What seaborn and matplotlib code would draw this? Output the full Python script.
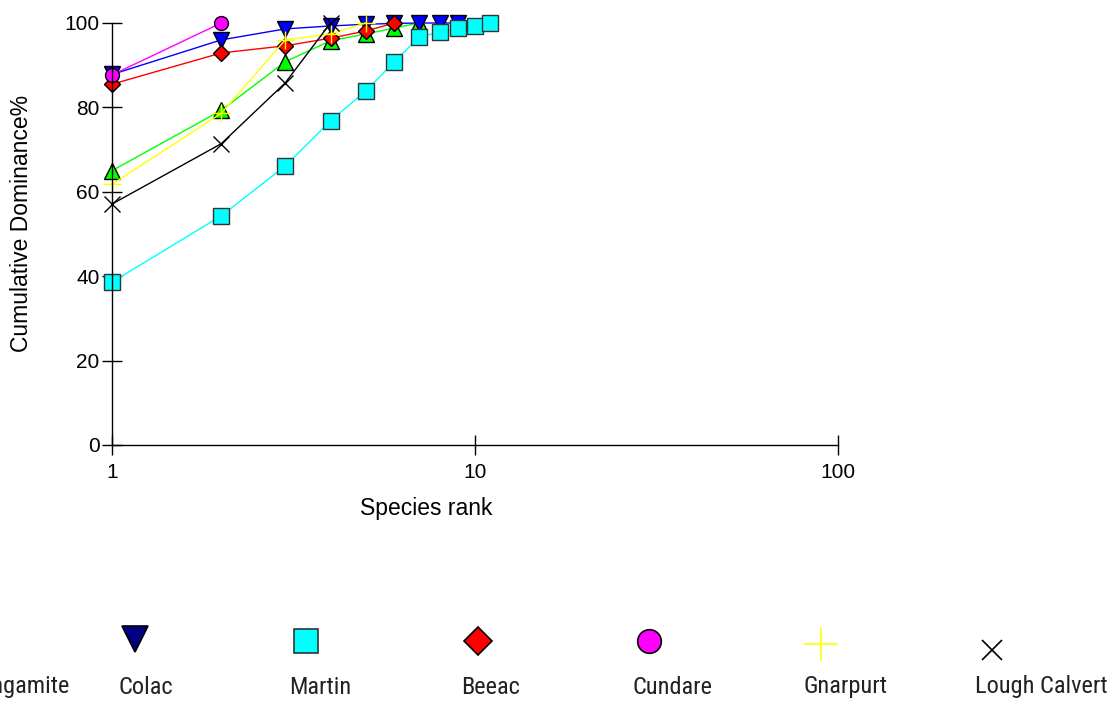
import matplotlib
matplotlib.use("Agg")
import matplotlib.pyplot as plt
from matplotlib import font_manager
import seaborn as sns
import pandas as pd
from matplotlib.ticker import FixedLocator, NullLocator, FixedFormatter

# ---- data ----
sites = ["Corangamite", "Colac", "Martin", "Beeac", "Cundare", "Gnarpurt", "Lough Calvert"]
corangamite = [65.0, 79.3, 90.8, 95.8, 97.4, 98.8, 100.0]
colac = [87.8, 96.0, 98.6, 99.3, 99.7, 99.9, 100.0, 100.0, 100.0]
martin = [38.6, 54.3, 66.1, 76.8, 83.9, 90.8, 96.6, 97.9, 98.7, 99.4, 100.0]
beeac = [85.5, 92.9, 94.6, 96.4, 98.1, 100.0]
cundare = [87.7, 100.0]
gnarpurt = [61.8, 78.6, 96.0, 97.4, 100.0]
lough_calvert = [57.1, 71.4, 85.8, 100.0]
series_values = [corangamite, colac, martin, beeac, cundare, gnarpurt, lough_calvert]

rows = []
for s, vals in zip(sites, series_values):
    for i, v in enumerate(vals):
        rows.append({"site": s, "rank": i + 1, "dominance": v})
df = pd.DataFrame(rows)

# ---- styles ----
styles = {
    "Corangamite":   dict(color="#00ff00", marker="^", mfc="#00ff00", mec="black", ms=11, lg_mfc="#00ff00"),
    "Colac":         dict(color="#0000ff", marker="v", mfc="#0000ff", mec="black", ms=11, lg_mfc="#000080"),
    "Martin":        dict(color="#00ffff", marker="s", mfc="#00ffff", mec="#333333", ms=11, lg_mfc="#00ffff"),
    "Beeac":         dict(color="#ff0000", marker="D", mfc="#ff0000", mec="black", ms=8.5, lg_mfc="#ff0000"),
    "Cundare":       dict(color="#ff00ff", marker="o", mfc="#ff00ff", mec="black", ms=10, lg_mfc="#ff00ff"),
    "Gnarpurt":      dict(color="#ffff00", marker="+", mfc="#ffff00", mec="#ffff00", ms=13, lg_mfc="#ffff00"),
    "Lough Calvert": dict(color="#000000", marker="x", mfc="#000000", mec="#000000", ms=11, lg_mfc="#000000"),
}

sns.set_theme(style="white")
plt.rcParams["font.family"] = ["Liberation Sans", "DejaVu Sans"]

available = {f.name for f in font_manager.fontManager.ttflist}
if "Roboto Condensed" in available:
    leg_family, leg_size = ["Roboto Condensed", "DejaVu Sans"], 17.6
elif "Liberation Sans Narrow" in available:
    leg_family, leg_size = ["Liberation Sans Narrow", "DejaVu Sans"], 17.6
else:
    leg_family, leg_size = ["Roboto", "DejaVu Sans"], 14.5

W, H = 1112, 702
fig = plt.figure(figsize=(W / 100, H / 100), dpi=100)
ax = fig.add_axes([112 / W, 1 - 445 / H, 726 / W, 422 / H])

for s in sites:
    st = styles[s]
    sub = df[df["site"] == s]
    sns.lineplot(data=sub, x="rank", y="dominance", ax=ax, color=st["color"],
                 marker=st["marker"], markersize=st["ms"], markerfacecolor=st["mfc"],
                 markeredgecolor=st["mec"], markeredgewidth=1.0, linewidth=1.0,
                 estimator=None, sort=False, legend=False, clip_on=False)

ax.set_xscale("log")
ax.set_xlim(1, 100)
ax.set_ylim(0, 100)
ax.xaxis.set_major_locator(FixedLocator([1, 10, 100]))
ax.xaxis.set_major_formatter(FixedFormatter(["1", "10", "100"]))
ax.xaxis.set_minor_locator(NullLocator())
ax.yaxis.set_major_locator(FixedLocator([0, 20, 40, 60, 80, 100]))
ax.yaxis.set_major_formatter(FixedFormatter(["0", "20", "40", "60", "80", "100"]))

for side in ["top", "right"]:
    ax.spines[side].set_visible(False)
for side in ["left", "bottom"]:
    ax.spines[side].set_color("black")
    ax.spines[side].set_linewidth(1.0)

ax.tick_params(axis="both", which="major", direction="inout", length=14, width=1.0,
               color="black", labelsize=15, labelcolor="black", left=True, bottom=True)
ax.tick_params(axis="y", pad=2)
ax.tick_params(axis="x", pad=6)

ax.set_xlabel("Species rank", fontsize=16.5, color="black")
ax.set_ylabel("Cumulative Dominance%", fontsize=16.5, color="black")
ax.xaxis.set_label_coords((426 - 112) / 726, (445 - 497) / 422)
ax.yaxis.set_label_coords((33 - 112) / 726, (445 - 223) / 422)

# ---- legend drawn manually (marker above label) ----
lax = fig.add_axes([0, 0, 1, 1], zorder=-1)
lax.set_xlim(0, W)
lax.set_ylim(H, 0)
lax.axis("off")
leg_ms = {"Corangamite": 19, "Colac": 19, "Martin": 17, "Beeac": 14, "Cundare": 17,
          "Gnarpurt": 24, "Lough Calvert": 14}
leg_y = {"Corangamite": 640, "Colac": 639, "Martin": 641, "Beeac": 641, "Cundare": 641,
         "Gnarpurt": 644, "Lough Calvert": 650}
text_left = [118 - 171.4 + 171.4 * i for i in range(len(sites))]
for i, s in enumerate(sites):
    st = styles[s]
    x0 = text_left[i]
    lax.plot([x0 + 17], [leg_y[s]], linestyle="none", marker=st["marker"],
             markersize=leg_ms[s], markerfacecolor=st["lg_mfc"],
             markeredgecolor=st["mec"], markeredgewidth=1.2, clip_on=False)
    lax.text(x0, 687, s, ha="left", va="center", fontsize=leg_size, color="#222222",
             family=leg_family, clip_on=False)

fig.savefig("out.png", dpi=100, facecolor="white")
